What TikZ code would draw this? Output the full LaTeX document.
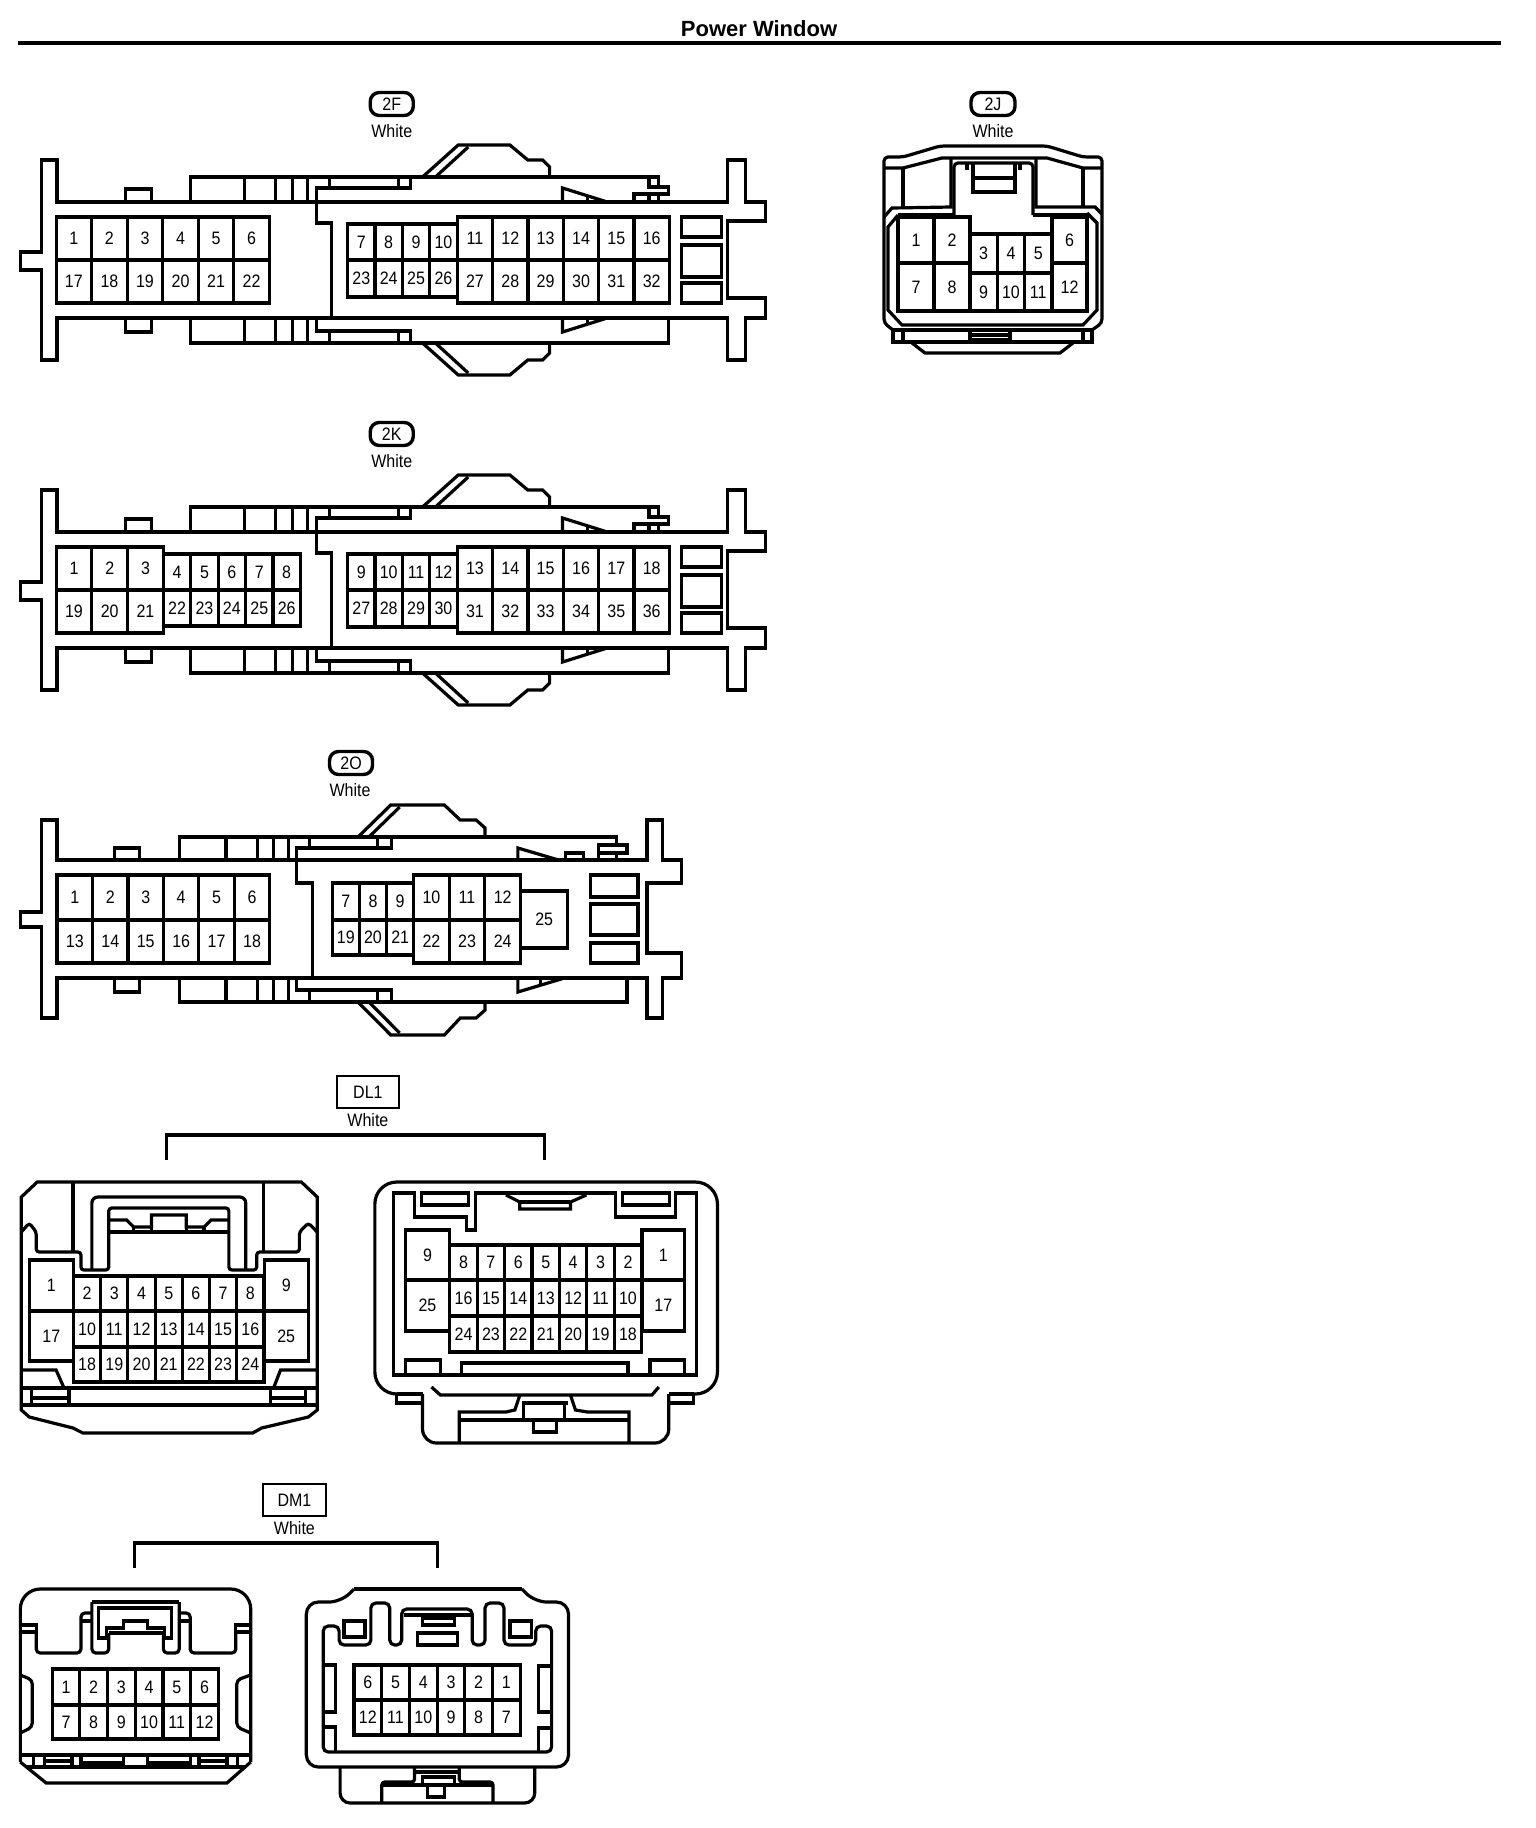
\documentclass[tikz,border=0pt]{standalone}
\usepackage{fontspec}
\setmainfont{Liberation Sans}
\newfontfamily\pinfont[FakeStretch=0.89]{Liberation Sans}

\tikzset{
    wire/.style={black, line width=3.2pt},
    pinlabel/.style={font=\pinfont\fontsize{18}{18}\selectfont, inner sep=0pt},
    whitelabel/.style={font=\pinfont\fontsize{18}{18}\selectfont, inner sep=0pt},
    roundtag/.style={draw, line width=3.4pt, rounded corners=9pt, minimum width=43pt, minimum height=23pt, inner sep=0pt, font=\pinfont\fontsize{18}{18}\selectfont},
    boxtag/.style={draw, line width=2.6pt, minimum width=62pt, minimum height=32pt, inner sep=0pt, font=\pinfont\fontsize{18}{18}\selectfont},
}

% one row of cavities: name, left, width, top, bottom, numbers
\newcommand{\pinrow}[6]{
    \foreach \n [count=\i from 0] in {#6} {
        \draw[wire] ({#2+\i*#3}, #4) rectangle ({#2+(\i+1)*#3}, #5);
        \node[pinlabel] (#1\n) at ({#2+(\i+0.5)*#3}, {(#4+#5)/2}) {\n};
    }
}

% housing shared by 2F and 2K
\newcommand{\longbody}{
    %% outline
    \draw[wire] (40, 160) -- (56, 160) -- (56, 202) -- (731, 202) -- (731, 160) -- (749, 160) -- (749, 202) -- (769, 202) -- (769, 221) -- (731, 221) -- (731, 298) -- (769, 298) -- (769, 318) -- (749, 318) -- (749, 360) -- (731, 360) -- (731, 318) -- (56, 318) -- (56, 360) -- (40, 360) -- (40, 270) -- (19, 270) -- (19, 252) -- (40, 252) -- cycle;
    \draw[wire] (125, 202) -- (125, 189) -- (151, 189) -- (151, 202);
    \draw[wire] (125, 318) -- (125, 332) -- (151, 332) -- (151, 318);
    %% bands
    \draw[wire] (190, 202) -- (190, 177) -- (662, 177) -- (662, 187);
    \draw[wire] (652, 177) -- (652, 187) -- (672, 187) -- (672, 194) -- (637, 194) -- (637, 202);
    \draw[wire] (652, 194) -- (652, 202);
    \draw[wire] (662, 194) -- (662, 202);
    \draw[wire] (190, 318) -- (190, 343) -- (672, 343) -- (672, 318);
    \foreach \x in {245, 276, 293, 308} {
        \draw[wire] (\x, 177) -- (\x, 202);
        \draw[wire] (\x, 318) -- (\x, 343);
    }
    %% inner housing
    \draw[wire] (332, 318) -- (332, 223) -- (317, 223) -- (317, 188) -- (412, 188) -- (412, 177);
    \draw[wire] (400, 177) -- (400, 188);
    \draw[wire] (330, 177) -- (330, 188);
    \draw[wire] (317, 318) -- (317, 331) -- (412, 331) -- (412, 343);
    \draw[wire] (400, 331) -- (400, 343);
    \draw[wire] (330, 331) -- (330, 343);
    %% wedges
    \draw[wire] (565, 202) -- (565, 188) -- (610, 202);
    \draw[wire] (590, 197) -- (590, 202);
    \draw[wire] (565, 318) -- (565, 332) -- (610, 318);
    \draw[wire] (590, 323) -- (590, 318);
    %% bumps
    \draw[wire] (424, 177) -- (460, 145) -- (512, 145) -- (530, 160) -- (545, 160) -- (552, 167) -- (552, 177);
    \draw[wire] (437, 177) -- (470, 147);
    \draw[wire] (424, 343) -- (460, 375) -- (512, 375) -- (530, 360) -- (545, 360) -- (552, 353) -- (552, 343);
    \draw[wire] (437, 343) -- (470, 373);
    %% end windows
    \draw[wire] (685, 217) rectangle (725, 237);
    \draw[wire] (685, 245) rectangle (725, 277);
    \draw[wire] (685, 283) rectangle (725, 303);
}

\begin{document}
\begin{tikzpicture}[x=1pt, y=-1pt]
        \path[use as bounding box, fill=white] (0, 0) rectangle (1536, 1828);

        % Title
        \node[font=\bfseries\fontsize{22}{22}\selectfont, inner sep=0pt] (title) at (759, 29) {Power Window};
        \coordinate (rulea) at (18, 43);
        \coordinate (ruleb) at (1501, 43);
        \draw[line width=4pt] (rulea) -- (ruleb);

        \begin{scope}[x=0.993pt, shift={(1.5, 0)}]
        % 2F
        \node[roundtag] (tagf) at (393, 104) {2F};
        \node[whitelabel] (whitef) at (393, 131) {White};
        \longbody
        \pinrow{fa}{55}{35.8}{217}{260}{1, 2, 3, 4, 5, 6}
        \pinrow{fb}{55}{35.8}{260}{303}{17, 18, 19, 20, 21, 22}
        \pinrow{fc}{348.5}{27.6}{224}{260}{7, 8, 9, 10}
        \pinrow{fd}{348.5}{27.6}{260}{297}{23, 24, 25, 26}
        \pinrow{fe}{459}{35.6}{217}{260}{11, 12, 13, 14, 15, 16}
        \pinrow{fg}{459}{35.6}{260}{303}{27, 28, 29, 30, 31, 32}

        % 2K
        \begin{scope}[shift={(0, 330)}]
            \node[roundtag] (tagk) at (393, 104) {2K};
            \node[whitelabel] (whitek) at (393, 131) {White};
            \longbody
            \pinrow{ka}{55}{36}{217}{260}{1, 2, 3}
            \pinrow{kb}{55}{36}{260}{303}{19, 20, 21}
            \pinrow{kc}{163}{27.6}{224}{260}{4, 5, 6, 7, 8}
            \pinrow{kd}{163}{27.6}{260}{296}{22, 23, 24, 25, 26}
            \pinrow{ke}{348.5}{27.6}{224}{260}{9, 10, 11, 12}
            \pinrow{kf}{348.5}{27.6}{260}{297}{27, 28, 29, 30}
            \pinrow{kg}{459}{35.6}{217}{260}{13, 14, 15, 16, 17, 18}
            \pinrow{kh}{459}{35.6}{260}{303}{31, 32, 33, 34, 35, 36}
        \end{scope}

        % 2O
        \node[roundtag] (tago) at (352, 763) {2O};
        \node[whitelabel] (whiteo) at (351, 790) {White};
        %% outline
        \draw[wire] (40, 820) -- (56, 820) -- (56, 860) -- (650, 860) -- (650, 820) -- (666, 820) -- (666, 860) -- (685, 860) -- (685, 883) -- (650, 883) -- (650, 953) -- (685, 953) -- (685, 978) -- (666, 978) -- (666, 1018) -- (650, 1018) -- (650, 978) -- (56, 978) -- (56, 1018) -- (40, 1018) -- (40, 927) -- (19, 927) -- (19, 912) -- (40, 912) -- cycle;
        \draw[wire] (114, 860) -- (114, 848) -- (139, 848) -- (139, 860);
        \draw[wire] (114, 978) -- (114, 992) -- (139, 992) -- (139, 978);
        %% bands
        \draw[wire] (179, 860) -- (179, 837) -- (619, 837) -- (619, 845) -- (630, 845) -- (630, 853) -- (601, 853) -- (601, 845) -- (619, 845);
        \draw[wire] (601, 853) -- (601, 860);
        \draw[wire] (619, 853) -- (619, 860);
        \draw[wire] (568, 860) -- (568, 853) -- (586, 853) -- (586, 860);
        \draw[wire] (179, 978) -- (179, 1002) -- (630, 1002) -- (630, 978);
        \foreach \x in {226, 258, 274, 289} {
            \draw[wire] (\x, 837) -- (\x, 860);
            \draw[wire] (\x, 978) -- (\x, 1002);
        }
        %% inner housing
        \draw[wire] (313, 978) -- (313, 883) -- (297, 883) -- (297, 848) -- (393, 848) -- (393, 837);
        \draw[wire] (379, 837) -- (379, 848);
        \draw[wire] (310, 837) -- (310, 848);
        \draw[wire] (297, 978) -- (297, 990) -- (393, 990) -- (393, 1002);
        \draw[wire] (379, 990) -- (379, 1002);
        \draw[wire] (310, 990) -- (310, 1002);
        %% wedges
        \draw[wire] (520, 860) -- (520, 848) -- (561, 860);
        \draw[wire] (520, 978) -- (520, 992) -- (567, 978);
        \draw[wire] (543, 985) -- (543, 978);
        %% bumps
        \draw[wire] (359, 837) -- (392, 805) -- (446, 805) -- (462, 820) -- (478, 820) -- (487, 828) -- (487, 837);
        \draw[wire] (370, 837) -- (401, 807);
        \draw[wire] (359, 1002) -- (392, 1035) -- (446, 1035) -- (462, 1018) -- (478, 1018) -- (487, 1010) -- (487, 1002);
        \draw[wire] (370, 1002) -- (401, 1033);
        %% end windows
        \draw[wire] (593, 875) rectangle (641, 897);
        \draw[wire] (593, 904) rectangle (641, 935);
        \draw[wire] (593, 943) rectangle (641, 963);
        %% cavities
        \pinrow{oa}{56}{35.7}{875}{920}{1, 2, 3, 4, 5, 6}
        \pinrow{ob}{56}{35.7}{920}{963}{13, 14, 15, 16, 17, 18}
        \pinrow{oc}{333}{27.4}{883}{920}{7, 8, 9}
        \pinrow{od}{333}{27.4}{920}{955}{19, 20, 21}
        \pinrow{oe}{415}{35.9}{875}{920}{10, 11, 12}
        \pinrow{of}{415}{35.9}{920}{963}{22, 23, 24}
        \pinrow{og}{523}{47}{891}{948}{25}

        % DL1
        \node[boxtag] (tagdl) at (369, 1092) {DL1};
        \node[whitelabel] (whitedl) at (369, 1120) {White};
        \coordinate (dlup) at (358, 1135);
        \coordinate (dla) at (166, 1160);
        \coordinate (dlb) at (547, 1160);
        \draw[wire] (dla) -- (dla |- dlup) -- (dlb |- dlup) -- (dlb);
        %% left view
        \draw[wire] (20, 1197) -- (36, 1182) -- (302, 1182) -- (318, 1197) -- (318, 1410) -- (309, 1417) -- (262, 1428) -- (253, 1433) -- (82, 1433) -- (72, 1428) -- (28, 1417) -- (20, 1410) -- cycle;
        \draw[wire] (20, 1388) -- (318, 1388);
        \draw[wire] (20, 1405) -- (318, 1405);
        \foreach \x in {30, 68, 271, 306} {
            \draw[wire] (\x, 1388) -- (\x, 1405);
        }
        \draw[wire] (30, 1398) -- (68, 1398);
        \draw[wire] (271, 1398) -- (306, 1398);
        \draw[wire] (20, 1370) -- (55, 1370) -- (63, 1388);
        \draw[wire] (318, 1370) -- (281, 1370) -- (274, 1388);
        \draw[wire] (72, 1183) -- (72, 1252);
        \draw[wire] (264, 1183) -- (264, 1252);
        \draw[wire, rounded corners=3pt] (20, 1232) -- (28, 1223) -- (35, 1232) -- (35, 1252) -- (80, 1252) -- (80, 1270) -- (108, 1270) -- (108, 1208) -- (229, 1208) -- (229, 1270) -- (257, 1270) -- (257, 1252) -- (300, 1252) -- (300, 1232) -- (309, 1223) -- (318, 1232);
        \draw[wire, rounded corners=6pt] (91, 1270) -- (91, 1197) -- (246, 1197) -- (246, 1270);
        \draw[wire] (108, 1220) -- (126, 1220) -- (133, 1227) -- (151, 1227) -- (151, 1215) -- (186, 1215) -- (186, 1227) -- (204, 1227) -- (211, 1220) -- (229, 1220);
        \draw[wire] (108, 1232) -- (229, 1232);
        \foreach \x in {133, 151, 186, 204} {
            \draw[wire] (\x, 1227) -- (\x, 1232);
        }
        \pinrow{la}{28}{44.5}{1260}{1311}{1}
        \pinrow{lb}{28}{44.5}{1311}{1361}{17}
        \pinrow{lc}{264.5}{44.5}{1260}{1311}{9}
        \pinrow{ld}{264.5}{44.5}{1311}{1361}{25}
        \pinrow{le}{72.5}{27.4}{1276}{1311}{2, 3, 4, 5, 6, 7, 8}
        \pinrow{lf}{72.5}{27.4}{1311}{1347}{10, 11, 12, 13, 14, 15, 16}
        \pinrow{lg}{72.5}{27.4}{1347}{1382}{18, 19, 20, 21, 22, 23, 24}
        %% right view
        \draw[wire, rounded corners=22pt] (398, 1394) -- (376, 1394) -- (376, 1182) -- (721, 1182) -- (721, 1394) -- (697, 1394);
        \draw[wire] (398, 1394) -- (424, 1394);
        \draw[wire] (672, 1394) -- (697, 1394);
        \draw[wire] (398, 1394) -- (398, 1403) -- (424, 1403);
        \draw[wire] (697, 1394) -- (697, 1403) -- (672, 1403);
        \draw[wire, rounded corners=14pt] (424, 1394) -- (424, 1443) -- (672, 1443) -- (672, 1394);
        \draw[wire] (395, 1375) -- (395, 1193) -- (416, 1193) -- (416, 1217) -- (468, 1217) -- (468, 1230) -- (477, 1230) -- (477, 1193) -- (618, 1193) -- (618, 1217) -- (679, 1217) -- (679, 1193) -- (700, 1193) -- (700, 1375) -- cycle;
        \draw[wire] (423, 1193) rectangle (470, 1205);
        \draw[wire] (625, 1193) rectangle (673, 1205);
        \draw[wire] (508, 1195) -- (522, 1202) -- (522, 1209) -- (573, 1209) -- (573, 1202) -- (589, 1195);
        \draw[wire] (522, 1202) -- (573, 1202);
        \draw[wire] (407, 1375) -- (407, 1360) -- (442, 1360) -- (442, 1375);
        \draw[wire] (463, 1375) -- (463, 1363) -- (631, 1363) -- (631, 1375);
        \draw[wire] (653, 1375) -- (653, 1360) -- (688, 1360) -- (688, 1375);
        \draw[wire] (433, 1387) -- (442, 1395) -- (655, 1395) -- (662, 1387);
        \draw[wire] (522, 1395) -- (517, 1410) -- (508, 1412) -- (461, 1412) -- (461, 1443);
        \draw[wire] (573, 1395) -- (578, 1410) -- (590, 1412) -- (632, 1412) -- (632, 1443);
        \draw[wire] (461, 1420) -- (632, 1420);
        \draw[wire] (524, 1403) -- (571, 1403);
        \draw[wire] (526, 1403) -- (526, 1420);
        \draw[wire] (567, 1403) -- (567, 1420);
        \draw[wire] (536, 1420) -- (536, 1432) -- (559, 1432) -- (559, 1420);
        \pinrow{ra}{407}{44}{1230}{1280}{9}
        \pinrow{rb}{407}{44}{1280}{1331}{25}
        \pinrow{rc}{645}{43}{1230}{1280}{1}
        \pinrow{rd}{645}{43}{1280}{1331}{17}
        \pinrow{re}{451.5}{27.6}{1245}{1280}{8, 7, 6, 5, 4, 3, 2}
        \pinrow{rf}{451.5}{27.6}{1280}{1316}{16, 15, 14, 13, 12, 11, 10}
        \pinrow{rg}{451.5}{27.6}{1316}{1352}{24, 23, 22, 21, 20, 19, 18}

        % DM1
        \node[boxtag, minimum width=63pt] (tagdm) at (295, 1500) {DM1};
        \node[whitelabel] (whitedm) at (295, 1528) {White};
        \coordinate (dmup) at (295, 1543);
        \coordinate (dma) at (134, 1568);
        \coordinate (dmb) at (439, 1568);
        \draw[wire] (dma) -- (dma |- dmup) -- (dmb |- dmup) -- (dmb);
        %% left view
        \draw[wire, rounded corners=20pt] (19, 1762) -- (19, 1589) -- (251, 1589) -- (251, 1762);
        \draw[wire] (19, 1762) -- (45, 1783) -- (227, 1783) -- (251, 1762);
        \draw[wire] (19, 1755) -- (251, 1755);
        \draw[wire] (25, 1767) -- (245, 1767);
        \foreach \x in {32, 43, 71, 80, 123, 147, 190, 199, 227, 238} {
            \draw[wire] (\x, 1755) -- (\x, 1767);
        }
        \draw[wire] (43, 1761) -- (71, 1761);
        \draw[wire] (199, 1761) -- (227, 1761);
        \draw[wire] (80, 1763) -- (123, 1763);
        \draw[wire] (147, 1763) -- (190, 1763);
        \draw[wire] (19, 1625) -- (35, 1625) -- (35, 1650);
        \draw[wire] (19, 1632) -- (35, 1632);
        \draw[wire, rounded corners=4pt] (35, 1632) -- (35, 1653) -- (80, 1653) -- (80, 1613) -- (91, 1613);
        \draw[wire] (80, 1621) -- (91, 1621);
        \draw[wire] (251, 1625) -- (236, 1625) -- (236, 1650);
        \draw[wire] (251, 1632) -- (236, 1632);
        \draw[wire, rounded corners=4pt] (236, 1632) -- (236, 1653) -- (190, 1653) -- (190, 1613) -- (179, 1613);
        \draw[wire] (190, 1621) -- (179, 1621);
        \draw[wire, rounded corners=4pt] (91, 1602) -- (91, 1653) -- (108, 1653) -- (108, 1633);
        \draw[wire] (91, 1602) -- (179, 1602);
        \draw[wire, rounded corners=4pt] (179, 1602) -- (179, 1653) -- (163, 1653) -- (163, 1633);
        \draw[wire] (98, 1608) -- (171, 1608) -- (171, 1638) -- (164, 1638) -- (164, 1628) -- (147, 1628) -- (147, 1621) -- (123, 1621) -- (123, 1628) -- (106, 1628) -- (106, 1638) -- (98, 1638) -- cycle;
        \draw[wire] (108, 1633) -- (163, 1633);
        \draw[wire, rounded corners=4pt] (19, 1675) -- (31, 1680) -- (31, 1727) -- (19, 1733);
        \draw[wire, rounded corners=4pt] (251, 1675) -- (237, 1680) -- (237, 1727) -- (251, 1733);
        \pinrow{ma}{51}{27.9}{1669}{1705}{1, 2, 3, 4, 5, 6}
        \pinrow{mb}{51}{27.9}{1705}{1739}{7, 8, 9, 10, 11, 12}
        %% right view
        \draw[wire, rounded corners=12pt] (355, 1589) -- (342, 1602) -- (307, 1602) -- (307, 1767) -- (571, 1767) -- (571, 1602) -- (537, 1602) -- (524, 1589);
        \draw[wire] (355, 1589) -- (524, 1589);
        \draw[wire, rounded corners=5pt] (324, 1752) -- (324, 1626) -- (340, 1626) -- (340, 1645) -- (372, 1645) -- (372, 1603) -- (391, 1603) -- (391, 1645) -- (403, 1645) -- (403, 1609) -- (474, 1609) -- (474, 1645) -- (487, 1645) -- (487, 1603) -- (506, 1603) -- (506, 1645) -- (538, 1645) -- (538, 1626) -- (554, 1626) -- (554, 1752) -- cycle;
        \draw[wire] (345, 1621) rectangle (366, 1637);
        \draw[wire] (512, 1621) rectangle (534, 1637);
        \draw[wire] (405, 1615) -- (474, 1615);
        \draw[wire] (424, 1618) rectangle (456, 1625);
        \draw[wire] (419, 1633) rectangle (459, 1645);
        \draw[wire] (325, 1665) -- (336, 1665) -- (336, 1712) -- (325, 1712);
        \draw[wire] (325, 1727) -- (336, 1727) -- (336, 1752);
        \draw[wire] (553, 1666) -- (541, 1666) -- (541, 1712) -- (553, 1712);
        \draw[wire] (541, 1752) -- (541, 1728) -- (553, 1728);
        \draw[wire, rounded corners=10pt] (341, 1767) -- (341, 1803) -- (537, 1803) -- (537, 1767);
        \draw[wire, rounded corners=3pt] (416, 1767) -- (416, 1782) -- (383, 1782) -- (383, 1803);
        \draw[wire, rounded corners=3pt] (461, 1767) -- (461, 1782) -- (495, 1782) -- (495, 1803);
        \draw[wire] (416, 1772) -- (461, 1772);
        \draw[wire] (424, 1777) rectangle (456, 1785);
        \draw[wire] (383, 1785) -- (424, 1785);
        \draw[wire] (456, 1785) -- (495, 1785);
        \draw[wire] (429, 1785) -- (429, 1797) -- (446, 1797) -- (446, 1785);
        \pinrow{na}{355}{27.9}{1665}{1700}{6, 5, 4, 3, 2, 1}
        \pinrow{nb}{355}{27.9}{1700}{1735}{12, 11, 10, 9, 8, 7}
        \end{scope}

        % 2J
        \node[roundtag, minimum width=44pt] (tagj) at (993, 104) {2J};
        \node[whitelabel] (whitej) at (993, 131) {White};
        \draw[wire, rounded corners=4pt] (893, 330) -- (884, 323) -- (884, 157) -- (903, 157) -- (940, 146) -- (1047, 146) -- (1083, 157) -- (1102, 157) -- (1102, 323) -- (1092, 330);
        \draw[wire] (884, 168) -- (903, 168) -- (942, 158) -- (1047, 158) -- (1083, 168) -- (1102, 168);
        \draw[wire] (903, 168) -- (903, 207);
        \draw[wire] (1083, 168) -- (1083, 207);
        \draw[wire] (951, 158) -- (951, 207) -- (892, 208) -- (884, 217);
        \draw[wire] (1036, 158) -- (1036, 207) -- (1095, 207) -- (1102, 214);
        \draw[wire, rounded corners=4pt] (954, 215) -- (954, 163) -- (1033, 163) -- (1033, 215);
        \draw[wire] (898, 215) -- (954, 215);
        \draw[wire] (1033, 215) -- (1087, 215);
        \draw[wire] (973, 163) -- (973, 192) -- (1015, 192) -- (1015, 163);
        \draw[wire] (973, 178) -- (1015, 178);
        \draw[wire] (967, 163) -- (967, 170);
        \draw[wire] (1020, 163) -- (1020, 170);
        \draw[wire] (898, 215) -- (888, 227) -- (888, 310) -- (902, 325) -- (1083, 325) -- (1097, 310) -- (1097, 223) -- (1087, 213);
        \draw[wire] (893, 330) rectangle (1092, 342);
        \draw[wire] (903, 330) -- (903, 342);
        \draw[wire] (1083, 330) -- (1083, 342);
        \draw[wire] (970, 330) rectangle (1010, 340);
        \draw[wire] (970, 335) -- (1010, 335);
        \draw[wire] (912, 343) -- (925, 353) -- (1060, 353) -- (1073, 343);
        \pinrow{ja}{898}{36}{217}{263}{1, 2}
        \pinrow{jb}{898}{36}{263}{311}{7, 8}
        \pinrow{jc}{970}{27.3}{234}{273}{3, 4, 5}
        \pinrow{jd}{970}{27.3}{273}{311}{9, 10, 11}
        \pinrow{je}{1052}{35}{217}{263}{6}
        \pinrow{jf}{1052}{35}{263}{311}{12}
\end{tikzpicture}
\end{document}
